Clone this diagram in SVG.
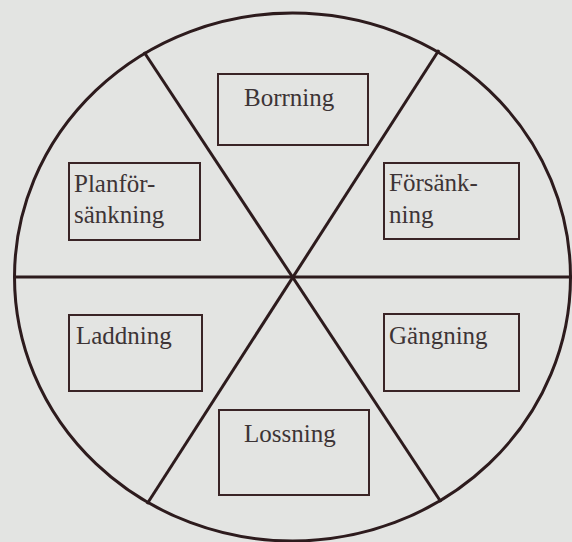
<svg xmlns="http://www.w3.org/2000/svg" width="572" height="542" viewBox="0 0 572 542">
<style>
.bg{fill:#e3e4e2}
.wheel{fill:none;stroke:#2d1b1d;stroke-width:3}
.box{fill:none;stroke:#3a2426;stroke-width:2}
.lbl{font-family:"Liberation Serif","Times New Roman",serif;font-size:25px;fill:#3d3436}
</style>
<rect class="bg" x="0" y="0" width="572" height="542"/>
<g id="connectors">
<ellipse class="wheel" cx="292.5" cy="277" rx="278" ry="264"/>
<line class="wheel" x1="14.5" y1="277" x2="572" y2="277"/>
<line class="wheel" x1="144" y1="52" x2="441" y2="502"/>
<line class="wheel" x1="439" y1="50" x2="147" y2="504"/>
</g>
<g id="borrning">
<rect class="box" x="218" y="74" width="150" height="71"/>
<text class="lbl" x="244" y="106">Borrning</text>
</g>
<g id="planforsankning">
<rect class="box" x="69" y="163" width="131" height="77"/>
<text class="lbl" x="74" y="192">Planför-</text>
<text class="lbl" x="74" y="223">sänkning</text>
</g>
<g id="forsankning">
<rect class="box" x="384" y="163" width="135" height="76"/>
<text class="lbl" x="389" y="191">Försänk-</text>
<text class="lbl" x="389" y="223">ning</text>
</g>
<g id="laddning">
<rect class="box" x="69" y="315" width="133" height="76"/>
<text class="lbl" x="76" y="344">Laddning</text>
</g>
<g id="gangning">
<rect class="box" x="384" y="314" width="135" height="77"/>
<text class="lbl" x="389" y="344">Gängning</text>
</g>
<g id="lossning">
<rect class="box" x="219" y="410" width="150" height="85"/>
<text class="lbl" x="244" y="442">Lossning</text>
</g>
</svg>
